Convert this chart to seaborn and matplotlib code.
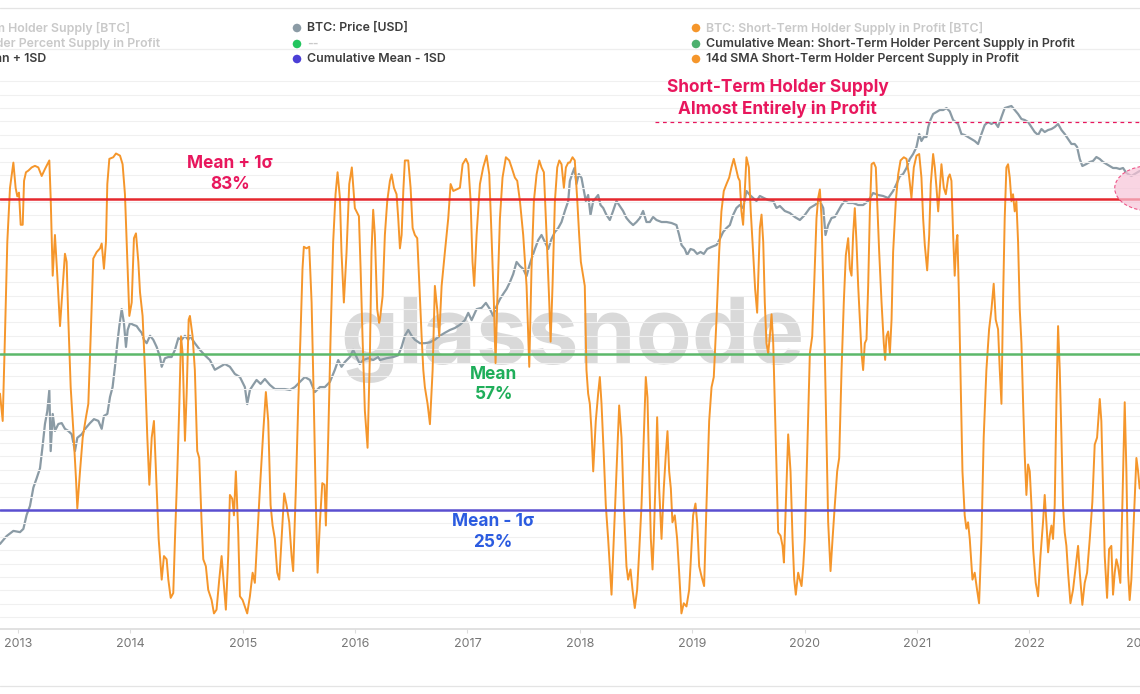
import numpy as np
import pandas as pd
import matplotlib.pyplot as plt
import seaborn as sns
from matplotlib.patches import Ellipse

# 14d SMA short-term holder percent supply in profit (decimal year, %)
sma_year = [
    2012.840, 2012.864, 2012.884, 2012.905, 2012.929, 2012.959, 2012.979, 2012.994, 2013.009, 2013.024,
    2013.042, 2013.054, 2013.071, 2013.092, 2013.122, 2013.151, 2013.181, 2013.211, 2013.240, 2013.279,
    2013.291, 2013.309, 2013.329, 2013.350, 2013.374, 2013.398, 2013.418, 2013.433, 2013.448, 2013.469,
    2013.493, 2013.516, 2013.528, 2013.552, 2013.576, 2013.605, 2013.626, 2013.647, 2013.670, 2013.700,
    2013.730, 2013.745, 2013.765, 2013.783, 2013.795, 2013.813, 2013.848, 2013.872, 2013.908, 2013.931,
    2013.952, 2013.973, 2013.991, 2014.012, 2014.032, 2014.050, 2014.071, 2014.086, 2014.109, 2014.130,
    2014.151, 2014.169, 2014.190, 2014.210, 2014.228, 2014.252, 2014.279, 2014.299, 2014.323, 2014.338,
    2014.359, 2014.382, 2014.397, 2014.418, 2014.436, 2014.451, 2014.465, 2014.486, 2014.501, 2014.519,
    2014.530, 2014.554, 2014.574, 2014.595, 2014.613, 2014.634, 2014.649, 2014.672, 2014.693, 2014.723,
    2014.744, 2014.767, 2014.791, 2014.812, 2014.833, 2014.850, 2014.871, 2014.886, 2014.907, 2014.922,
    2014.939, 2014.960, 2014.975, 2014.999, 2015.019, 2015.040, 2015.064, 2015.088, 2015.108, 2015.129,
    2015.153, 2015.183, 2015.206, 2015.227, 2015.248, 2015.266, 2015.286, 2015.307, 2015.325, 2015.346,
    2015.369, 2015.390, 2015.414, 2015.435, 2015.449, 2015.473, 2015.494, 2015.514, 2015.532, 2015.544,
    2015.568, 2015.592, 2015.613, 2015.633, 2015.651, 2015.666, 2015.687, 2015.708, 2015.728, 2015.740,
    2015.761, 2015.782, 2015.805, 2015.826, 2015.844, 2015.865, 2015.879, 2015.900, 2015.924, 2015.948,
    2015.971, 2015.998, 2016.019, 2016.034, 2016.049, 2016.066, 2016.087, 2016.111, 2016.132, 2016.146,
    2016.161, 2016.176, 2016.197, 2016.214, 2016.221, 2016.245, 2016.265, 2016.286, 2016.310, 2016.325,
    2016.346, 2016.369, 2016.384, 2016.399, 2016.414, 2016.429, 2016.443, 2016.473, 2016.494, 2016.512,
    2016.532, 2016.553, 2016.571, 2016.592, 2016.607, 2016.621, 2016.645, 2016.666, 2016.690, 2016.710,
    2016.731, 2016.749, 2016.770, 2016.799, 2016.829, 2016.850, 2016.874, 2016.903, 2016.933, 2016.957,
    2016.986, 2017.007, 2017.028, 2017.045, 2017.060, 2017.081, 2017.111, 2017.140, 2017.170, 2017.194,
    2017.214, 2017.235, 2017.250, 2017.265, 2017.289, 2017.312, 2017.342, 2017.372, 2017.393, 2017.422,
    2017.443, 2017.467, 2017.496, 2017.526, 2017.550, 2017.570, 2017.591, 2017.615, 2017.639, 2017.659,
    2017.680, 2017.704, 2017.728, 2017.740, 2017.757, 2017.778, 2017.799, 2017.817, 2017.837, 2017.858,
    2017.876, 2017.897, 2017.911, 2017.935, 2017.955, 2017.976, 2017.994, 2018.009, 2018.024, 2018.044,
    2018.059, 2018.074, 2018.089, 2018.104, 2018.119, 2018.142, 2018.163, 2018.178, 2018.193, 2018.213,
    2018.231, 2018.252, 2018.267, 2018.282, 2018.302, 2018.326, 2018.350, 2018.371, 2018.391, 2018.415,
    2018.430, 2018.451, 2018.469, 2018.489, 2018.510, 2018.528, 2018.549, 2018.569, 2018.587, 2018.602,
    2018.617, 2018.632, 2018.647, 2018.658, 2018.676, 2018.688, 2018.706, 2018.727, 2018.747, 2018.765,
    2018.780, 2018.795, 2018.810, 2018.824, 2018.845, 2018.866, 2018.884, 2018.904, 2018.925, 2018.949,
    2018.973, 2018.988, 2019.008, 2019.029, 2019.044, 2019.062, 2019.082, 2019.106, 2019.127, 2019.151,
    2019.172, 2019.192, 2019.216, 2019.240, 2019.260, 2019.281, 2019.305, 2019.329, 2019.349, 2019.370,
    2019.394, 2019.409, 2019.423, 2019.438, 2019.453, 2019.468, 2019.483, 2019.504, 2019.521, 2019.542,
    2019.560, 2019.578, 2019.595, 2019.602, 2019.617, 2019.632, 2019.646, 2019.661, 2019.676, 2019.691,
    2019.706, 2019.721, 2019.735, 2019.750, 2019.765, 2019.786, 2019.804, 2019.816, 2019.833, 2019.854,
    2019.875, 2019.893, 2019.908, 2019.922, 2019.943, 2019.958, 2019.973, 2019.988, 2020.002, 2020.023,
    2020.047, 2020.068, 2020.085, 2020.106, 2020.121, 2020.136, 2020.151, 2020.166, 2020.180, 2020.195,
    2020.210, 2020.231, 2020.249, 2020.269, 2020.290, 2020.308, 2020.329, 2020.349, 2020.367, 2020.388,
    2020.403, 2020.418, 2020.432, 2020.447, 2020.462, 2020.477, 2020.492, 2020.507, 2020.521, 2020.536,
    2020.551, 2020.566, 2020.581, 2020.596, 2020.616, 2020.634, 2020.646, 2020.664, 2020.685, 2020.705,
    2020.717, 2020.729, 2020.744, 2020.759, 2020.774, 2020.788, 2020.812, 2020.833, 2020.854, 2020.883,
    2020.907, 2020.928, 2020.951, 2020.972, 2020.996, 2021.020, 2021.040, 2021.055, 2021.070, 2021.091,
    2021.109, 2021.123, 2021.144, 2021.159, 2021.174, 2021.189, 2021.204, 2021.218, 2021.239, 2021.257,
    2021.278, 2021.292, 2021.307, 2021.322, 2021.336, 2021.351, 2021.360, 2021.375, 2021.390, 2021.405,
    2021.425, 2021.440, 2021.455, 2021.470, 2021.494, 2021.514, 2021.535, 2021.553, 2021.574, 2021.594,
    2021.618, 2021.642, 2021.663, 2021.683, 2021.701, 2021.722, 2021.737, 2021.752, 2021.766, 2021.781,
    2021.796, 2021.811, 2021.826, 2021.841, 2021.855, 2021.870, 2021.885, 2021.900, 2021.915, 2021.930,
    2021.945, 2021.959, 2021.974, 2021.989, 2022.004, 2022.019, 2022.034, 2022.057, 2022.078, 2022.099,
    2022.122, 2022.137, 2022.152, 2022.167, 2022.182, 2022.197, 2022.211, 2022.226, 2022.241, 2022.256,
    2022.271, 2022.286, 2022.300, 2022.315, 2022.330, 2022.345, 2022.366, 2022.389, 2022.413, 2022.434,
    2022.449, 2022.472, 2022.493, 2022.514, 2022.538, 2022.561, 2022.582, 2022.603, 2022.627, 2022.641,
    2022.656, 2022.671, 2022.692, 2022.710, 2022.730, 2022.745, 2022.760, 2022.775, 2022.790, 2022.810,
    2022.828, 2022.849, 2022.864, 2022.879, 2022.893, 2022.908, 2022.929, 2022.953, 2022.968, 2022.982,
]
sma_pct = [
    46.7, 41.6, 57.4, 75.0, 85.1, 89.8, 85.1, 83.5, 84.2, 78.2,
    78.2, 86.4, 88.0, 88.3, 88.9, 89.2, 88.9, 87.3, 88.6, 90.2,
    83.2, 68.7, 76.3, 68.7, 59.3, 66.8, 72.8, 71.3, 60.5, 47.9,
    39.7, 30.9, 25.3, 32.2, 38.5, 42.3, 44.8, 57.4, 71.9, 73.1,
    73.8, 74.7, 70.0, 75.0, 85.8, 90.5, 90.8, 91.5, 91.1, 89.5,
    83.9, 71.9, 61.2, 63.7, 75.7, 76.6, 71.3, 65.6, 61.2, 51.1,
    38.5, 29.7, 38.5, 41.6, 32.2, 19.6, 12.0, 16.4, 15.8, 12.0,
    8.6, 9.5, 19.6, 32.2, 44.8, 57.4, 54.2, 37.9, 46.7, 60.5,
    61.2, 57.4, 51.1, 36.0, 34.7, 22.7, 15.8, 14.5, 10.1, 8.2,
    5.7, 6.4, 12.0, 16.4, 10.8, 6.4, 16.4, 27.8, 27.1, 24.0,
    32.2, 20.8, 8.9, 8.2, 7.0, 5.7, 8.9, 13.3, 11.4, 19.6,
    29.0, 39.7, 47.0, 41.6, 25.9, 22.1, 19.6, 13.3, 12.0, 19.6,
    28.1, 25.9, 22.7, 16.4, 13.6, 29.0, 44.8, 57.4, 70.0, 74.1,
    73.8, 74.1, 63.7, 44.8, 25.9, 13.3, 22.7, 30.0, 29.7, 22.1,
    38.5, 57.4, 75.0, 83.9, 88.0, 83.2, 73.1, 63.7, 73.1, 85.8,
    88.9, 81.3, 80.4, 79.8, 70.0, 57.4, 43.5, 36.6, 54.2, 73.1,
    81.0, 76.3, 62.4, 59.9, 60.5, 64.9, 76.3, 82.6, 86.4, 87.6,
    85.1, 83.9, 79.4, 73.8, 76.3, 84.5, 90.2, 90.2, 85.1, 77.6,
    76.3, 75.7, 67.5, 57.4, 51.1, 47.9, 44.8, 41.0, 51.1, 66.8,
    62.4, 57.4, 66.8, 73.1, 79.4, 85.8, 84.5, 84.8, 85.1, 89.5,
    90.5, 89.5, 82.6, 71.3, 66.8, 76.3, 85.8, 88.9, 91.1, 87.6,
    76.3, 63.7, 52.4, 63.7, 79.4, 87.0, 90.8, 90.2, 88.9, 87.0,
    86.4, 82.6, 76.3, 66.8, 51.7, 70.0, 82.6, 87.6, 90.2, 88.9,
    88.0, 76.3, 63.7, 56.4, 66.8, 82.6, 88.9, 90.2, 89.5, 85.1,
    88.9, 89.8, 89.8, 90.8, 90.2, 83.2, 76.3, 71.3, 69.4, 66.8,
    51.1, 46.7, 44.8, 39.7, 32.2, 41.6, 46.7, 49.8, 44.8, 35.3,
    25.9, 19.6, 14.5, 9.2, 19.6, 32.2, 44.5, 38.5, 25.9, 14.5,
    12.0, 13.9, 10.1, 6.7, 10.1, 17.1, 25.9, 38.5, 49.8, 46.0,
    32.2, 19.6, 13.9, 19.6, 32.2, 42.3, 29.0, 19.6, 29.0, 35.3,
    39.7, 32.2, 29.0, 22.7, 24.0, 19.6, 13.3, 5.7, 7.6, 7.0,
    10.1, 15.8, 24.0, 26.2, 22.7, 14.5, 12.7, 10.8, 25.9, 41.6,
    47.9, 49.8, 60.5, 73.1, 80.7, 84.5, 85.8, 87.0, 88.9, 90.5,
    88.3, 87.0, 86.4, 80.7, 78.2, 84.5, 90.8, 88.9, 80.7, 73.1,
    66.2, 61.8, 73.1, 77.6, 80.1, 75.0, 63.7, 56.1, 54.2, 57.4,
    61.5, 56.1, 44.8, 32.2, 20.8, 20.2, 18.3, 15.2, 25.9, 39.1,
    32.2, 19.6, 12.0, 9.2, 13.3, 12.0, 10.8, 14.5, 19.6, 35.3,
    54.2, 57.4, 66.8, 79.4, 83.2, 84.8, 79.4, 66.8, 54.2, 38.5,
    22.7, 13.6, 19.6, 25.9, 32.2, 34.7, 51.1, 63.7, 72.5, 75.7,
    70.0, 68.7, 76.3, 81.3, 75.0, 66.8, 60.5, 54.2, 51.1, 56.1,
    56.8, 66.8, 80.7, 89.5, 89.8, 88.9, 82.6, 73.1, 63.7, 56.1,
    53.0, 57.4, 58.3, 54.2, 60.5, 73.1, 82.6, 87.6, 90.2, 90.8,
    90.5, 87.6, 83.2, 88.9, 91.1, 91.4, 87.0, 79.4, 74.4, 69.7,
    76.3, 85.8, 91.4, 88.9, 85.1, 80.7, 85.1, 89.5, 85.1, 83.9,
    87.0, 87.6, 86.4, 76.3, 68.7, 75.0, 76.3, 63.7, 47.9, 32.2,
    24.0, 21.5, 22.7, 19.6, 12.0, 13.3, 10.1, 7.6, 19.6, 38.5,
    51.1, 58.7, 62.4, 67.2, 60.5, 58.7, 51.1, 44.8, 63.7, 79.4,
    88.9, 89.5, 87.0, 82.6, 83.9, 80.7, 82.6, 75.0, 62.4, 56.1,
    44.8, 35.3, 27.8, 33.5, 32.2, 25.9, 17.7, 11.4, 8.9, 16.4,
    22.7, 27.8, 22.7, 17.1, 20.2, 22.1, 19.6, 25.9, 44.8, 59.3,
    51.1, 38.5, 25.9, 20.8, 18.3, 13.3, 7.6, 10.1, 14.5, 18.3,
    13.3, 7.3, 11.4, 13.3, 19.6, 26.5, 37.2, 38.5, 45.7, 41.6,
    29.0, 16.4, 8.6, 17.7, 18.3, 9.2, 13.3, 15.8, 14.5, 11.4,
    25.9, 45.1, 32.2, 13.3, 8.2, 12.0, 22.7, 34.7, 32.2, 29.0,
]

# BTC price (decimal year, USD)
price_year = [
    2012.840, 2012.899, 2012.959, 2013.018, 2013.048, 2013.077, 2013.107, 2013.137, 2013.166, 2013.196,
    2013.220, 2013.240, 2013.261, 2013.279, 2013.291, 2013.309, 2013.329, 2013.359, 2013.389, 2013.418,
    2013.448, 2013.478, 2013.507, 2013.528, 2013.567, 2013.605, 2013.641, 2013.676, 2013.715, 2013.745,
    2013.765, 2013.795, 2013.819, 2013.842, 2013.863, 2013.884, 2013.902, 2013.923, 2013.943, 2013.961,
    2013.976, 2013.997, 2014.026, 2014.056, 2014.080, 2014.101, 2014.121, 2014.145, 2014.175, 2014.204,
    2014.234, 2014.264, 2014.279, 2014.308, 2014.338, 2014.367, 2014.397, 2014.427, 2014.456, 2014.486,
    2014.516, 2014.530, 2014.574, 2014.619, 2014.663, 2014.708, 2014.752, 2014.797, 2014.841, 2014.886,
    2014.930, 2014.975, 2015.019, 2015.040, 2015.064, 2015.093, 2015.123, 2015.159, 2015.197, 2015.242,
    2015.286, 2015.331, 2015.375, 2015.420, 2015.464, 2015.509, 2015.553, 2015.598, 2015.642, 2015.687,
    2015.731, 2015.776, 2015.820, 2015.850, 2015.879, 2015.909, 2015.953, 2015.983, 2016.013, 2016.042,
    2016.072, 2016.117, 2016.161, 2016.206, 2016.221, 2016.280, 2016.340, 2016.384, 2016.414, 2016.443,
    2016.473, 2016.503, 2016.532, 2016.577, 2016.621, 2016.666, 2016.710, 2016.755, 2016.799, 2016.844,
    2016.888, 2016.933, 2016.977, 2017.007, 2017.037, 2017.081, 2017.126, 2017.164, 2017.200, 2017.229,
    2017.259, 2017.289, 2017.318, 2017.348, 2017.378, 2017.407, 2017.437, 2017.467, 2017.496, 2017.526,
    2017.550, 2017.570, 2017.600, 2017.630, 2017.659, 2017.689, 2017.719, 2017.748, 2017.778, 2017.808,
    2017.837, 2017.867, 2017.897, 2017.911, 2017.935, 2017.952, 2017.970, 2017.991, 2018.015, 2018.036,
    2018.053, 2018.074, 2018.095, 2018.119, 2018.142, 2018.163, 2018.184, 2018.208, 2018.237, 2018.267,
    2018.296, 2018.326, 2018.356, 2018.385, 2018.415, 2018.445, 2018.474, 2018.504, 2018.534, 2018.563,
    2018.593, 2018.623, 2018.652, 2018.682, 2018.727, 2018.771, 2018.816, 2018.860, 2018.884, 2018.905,
    2018.934, 2018.955, 2018.985, 2019.014, 2019.044, 2019.074, 2019.103, 2019.133, 2019.172, 2019.216,
    2019.246, 2019.275, 2019.305, 2019.335, 2019.364, 2019.394, 2019.423, 2019.453, 2019.483, 2019.513,
    2019.542, 2019.572, 2019.602, 2019.638, 2019.676, 2019.721, 2019.750, 2019.780, 2019.824, 2019.869,
    2019.913, 2019.958, 2020.002, 2020.047, 2020.091, 2020.136, 2020.166, 2020.186, 2020.210, 2020.240,
    2020.269, 2020.299, 2020.329, 2020.358, 2020.388, 2020.432, 2020.477, 2020.521, 2020.566, 2020.610,
    2020.655, 2020.699, 2020.744, 2020.788, 2020.818, 2020.848, 2020.877, 2020.907, 2020.936, 2020.966,
    2020.996, 2021.020, 2021.040, 2021.061, 2021.085, 2021.100, 2021.120, 2021.144, 2021.174, 2021.203,
    2021.233, 2021.263, 2021.292, 2021.322, 2021.366, 2021.396, 2021.425, 2021.455, 2021.485, 2021.514,
    2021.544, 2021.574, 2021.603, 2021.633, 2021.663, 2021.692, 2021.722, 2021.752, 2021.781, 2021.811,
    2021.841, 2021.870, 2021.900, 2021.930, 2021.959, 2021.989, 2022.019, 2022.048, 2022.078, 2022.108,
    2022.137, 2022.167, 2022.197, 2022.226, 2022.256, 2022.286, 2022.315, 2022.345, 2022.375, 2022.404,
    2022.425, 2022.449, 2022.472, 2022.508, 2022.538, 2022.567, 2022.597, 2022.627, 2022.656, 2022.686,
    2022.716, 2022.745, 2022.775, 2022.805, 2022.834, 2022.864, 2022.908, 2022.953, 2022.982,
]
price_usd = [
    9.2, 10.8, 12.0, 11.7, 12.5, 16.6, 20, 29, 35, 43,
    69, 106, 138, 212, 61, 130, 92, 106, 108, 96,
    92, 86, 61, 80, 86, 98, 108, 117, 113, 96,
    125, 130, 184, 225, 340, 550, 780, 1100, 830, 510,
    720, 830, 800, 780, 720, 680, 590, 550, 640, 590,
    510, 415, 340, 405, 415, 415, 480, 610, 590, 640,
    590, 640, 550, 480, 430, 390, 320, 340, 360, 340,
    294, 276, 225, 159, 212, 235, 260, 240, 265, 235,
    216, 216, 216, 212, 225, 250, 276, 260, 203, 225,
    225, 250, 320, 390, 340, 375, 415, 480, 415, 360,
    390, 405, 390, 415, 390, 405, 415, 430, 510, 640,
    720, 640, 590, 550, 550, 560, 590, 640, 680, 720,
    750, 800, 880, 1020, 880, 1100, 1130, 1250, 1100, 960,
    1170, 1350, 1500, 1660, 1910, 2250, 2880, 2650, 2500, 2160,
    2650, 3060, 3750, 4500, 4990, 4330, 3750, 4600, 5300, 5750,
    6500, 8140, 9970, 14990, 17650, 19540, 14100, 17290, 15940, 12230,
    9970, 11270, 7500, 9970, 10600, 11270, 9190, 8650, 7500, 6770,
    8140, 9970, 9010, 8140, 7050, 6500, 6110, 6500, 7050, 8140,
    6500, 6500, 7200, 6770, 6500, 6500, 6370, 6110, 4990, 4070,
    3750, 3320, 3750, 3670, 3390, 3530, 3390, 3750, 3910, 4070,
    4600, 5300, 5750, 6110, 7500, 8650, 9190, 8650, 12230, 11270,
    10600, 9970, 11050, 10600, 10180, 9970, 8650, 9010, 8140, 7810,
    7200, 6770, 7500, 8650, 9190, 9970, 8650, 4990, 6110, 7050,
    7200, 8140, 9190, 9970, 9580, 9580, 9190, 9190, 9970, 11740,
    11270, 11050, 10600, 12230, 14100, 16600, 17290, 19540, 23470, 25990,
    29980, 39060, 33870, 36750, 36750, 45050, 51970, 58720, 61150, 63700,
    63700, 66300, 62000, 51970, 47900, 39060, 38270, 36750, 35280, 33870,
    31870, 39060, 46930, 49890, 47900, 49890, 45050, 55240, 66300, 67700,
    69100, 63700, 58720, 53040, 51970, 49890, 45050, 40690, 38270, 43250,
    40690, 42380, 43250, 45050, 47900, 42380, 39060, 35280, 31870, 31870,
    29980, 23470, 20350, 21200, 22080, 22540, 24440, 23470, 22080, 21200,
    20350, 19540, 19540, 19140, 19540, 17650, 16600, 17650, 18380,
]

# band levels of the percent series
upper_pct = 83.0
mean_pct = 54.1
lower_pct = 25.0
years = list(range(2013, 2023))

sma = pd.DataFrame({"year": sma_year, "pct": sma_pct})
price = pd.DataFrame({"year": price_year, "usd": price_usd})

sns.set_theme(style="white")
plt.rcParams["font.family"] = ["Inter", "DejaVu Sans"]

fig = plt.figure(figsize=(11.4, 6.94), dpi=100)
fig.patch.set_facecolor("white")
ax = fig.add_axes([0, 0.0937, 1, 0.8054])
ax2 = ax.twinx()

# watermark
ax.text(0.502, 0.476, "glassnode", transform=ax.transAxes, ha="center", va="baseline",
        fontsize=66, fontweight="bold", color="#d9d9d9", zorder=0)

# price (log scale)
sns.lineplot(data=price, x="year", y="usd", ax=ax, color="#8b9ba5", lw=1.6,
             estimator=None, zorder=2)
ax.set_yscale("log")
ax.set_ylim(1.626, 143900)
ax.set_xlim(2012.84, 2022.985)
ax.set_xlabel("")
ax.set_ylabel("")
ax.yaxis.set_major_locator(plt.NullLocator())
ax.yaxis.set_minor_locator(plt.NullLocator())
ax.set_xticks(years)
ax.set_xticklabels([str(y) for y in years])
ax.tick_params(axis="x", bottom=True, length=3, width=0.8, color="#dddddd",
               labelcolor="#777777", labelsize=9, pad=3.5)
ax.annotate("2023", xy=(2023, 0), xycoords=ax.get_xaxis_transform(),
            xytext=(0, -6.5), textcoords="offset points", ha="center", va="top",
            fontsize=9, color="#777777", annotation_clip=False)
for s in ax.spines.values():
    s.set_visible(False)
ax.spines["bottom"].set_visible(True)
ax.spines["bottom"].set_color("#dddddd")

# percent in profit
sns.lineplot(data=sma, x="year", y="pct", ax=ax2, color="#f5962b", lw=1.4,
             estimator=None, zorder=3)
ax2.set_ylim(2.8, 107.07)
ax2.set_xlim(2012.84, 2022.985)
ax2.set_ylabel("")
ax2.set_yticks(np.arange(5, 106, 2.5))
ax2.grid(axis="y", color="#f0f0f0", lw=0.8)
ax2.set_axisbelow(True)
ax2.tick_params(axis="y", right=False, labelright=False, length=0)
for s in ax2.spines.values():
    s.set_visible(False)

ax2.axhline(upper_pct, color="#e5282e", lw=1.8, zorder=4)
ax2.axhline(mean_pct, color="#5cb86a", lw=1.8, zorder=4)
ax2.axhline(lower_pct, color="#5a4fd0", lw=1.8, zorder=4)

ann = dict(ha="center", va="center", fontsize=12.4, fontweight="bold", linespacing=1.3, zorder=5)
ax2.text(2014.886, 87.7, "Mean + 1σ\n83%", color="#e8175d", **ann)
ax2.text(2017.235, 48.4, "Mean\n57%", color="#1fae5a", **ann)
ax2.text(2017.226, 20.9, "Mean - 1σ\n25%", color="#2b5be0", **ann)
ax2.text(2019.76, 101.8, "Short-Term Holder Supply\nAlmost Entirely in Profit", color="#e8175d", **ann)

ax2.hlines(97.4, 2018.67, 2022.985, colors="#e8175d", lw=0.9, linestyles=(0, (3, 3)), zorder=4)
ax2.add_patch(Ellipse((2023.07, 85.0), 0.62, 8.4, facecolor="#f7c4d8", alpha=0.7,
                      edgecolor="#e8175d", lw=0.8, ls=(0, (3, 2)), zorder=5))

# header legend and frame lines (pixel coords)
lg = fig.add_axes([0, 0, 1, 1], zorder=10)
lg.set_xlim(0, 1140)
lg.set_ylim(694, 0)
lg.axis("off")
for yy, c in [(8, "#e4e4e4"), (49, "#eeeeee"), (686, "#e4e4e4")]:
    lg.plot([0, 1140], [yy, yy], color=c, lw=0.9)

dark = "#3d3d3d"
light = "#c9c9c9"
rows = [28, 44, 59]
col1 = [("BTC: Short-Term Holder Supply [BTC]", light, 130),
        ("Short-Term Holder Percent Supply in Profit", light, 160),
        ("Cumulative Mean + 1SD", dark, 46)]
for (txt, c, xr), yy in zip(col1, rows):
    lg.text(xr, yy, txt, ha="right", va="center", fontsize=8.9, color=c, fontweight="semibold")

col2 = [("BTC: Price [USD]", dark, "#8b9ba5"),
        ("--", light, "#22c55e"),
        ("Cumulative Mean - 1SD", dark, "#4b3fd6")]
col3 = [("BTC: Short-Term Holder Supply in Profit [BTC]", light, "#f5962b"),
        ("Cumulative Mean: Short-Term Holder Percent Supply in Profit", dark, "#4cb06e"),
        ("14d SMA Short-Term Holder Percent Supply in Profit", dark, "#f5962b")]
for x0, col in [(297, col2), (696, col3)]:
    for (txt, c, dot), yy in zip(col, rows):
        lg.scatter([x0], [yy], s=38, color=dot, edgecolor="none")
        lg.text(x0 + 10, yy, txt, ha="left", va="center", fontsize=8.9, color=c, fontweight="semibold")

fig.savefig("out.png", dpi=100)
